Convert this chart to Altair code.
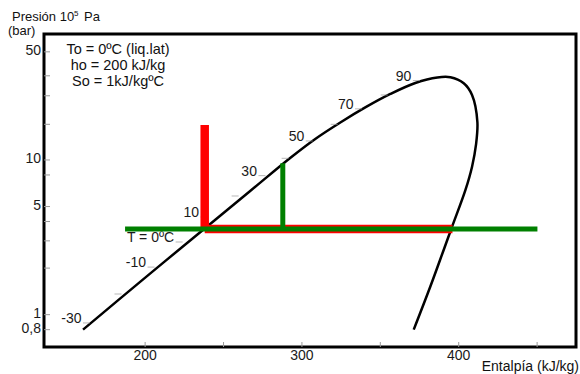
import altair as alt
import pandas as pd

# Saturation dome (enthalpy kJ/kg, pressure bar), in drawing order along the curve
curve_h = [160.4, 196.8, 235.1, 267.0, 292.5, 308.5, 324.5, 340.4, 356.4, 372.3,
           386.4, 394.7, 403.2, 408.5, 411.9, 411.0, 408.5, 404.3, 395.8, 390.4,
           381.9, 371.3]
curve_p = [0.80, 1.63, 3.41, 6.30, 10.3, 13.67, 17.47, 21.85, 26.71, 31.46,
           34.15, 34.25, 31.3, 26.3, 17.6, 12.5, 9.05, 6.40, 3.71, 2.62,
           1.52, 0.80]

# Isotherm marks on the liquid line (temperature ºC)
iso_t = [-30, -20, -10, 0, 10, 20, 30, 40, 50, 60, 70, 80, 90]
iso_h = [162.6, 182.7, 203.8, 221.7, 237.6, 257.4, 274.5, 289.3, 304.7, 320.6,
         336.1, 352.5, 373.0]
iso_p = [0.884, 1.36, 2.03, 2.95, 4.28, 5.85, 7.92, 10.25, 13.27, 17.0,
         21.4, 26.3, 32.6]
iso_label = ["-30", "", "-10", "T = 0ºC", "10", "", "30", "", "50", "",
             "70", "", "90"]

# Red process lines (h1, h2, p1, p2)
red_h1 = [238.0, 238.0]
red_h2 = [238.0, 396.0]
red_p1 = [3.58, 3.58]
red_p2 = [16.84, 3.58]

# Green process lines
green_h1 = [287.8, 187.2]
green_h2 = [287.8, 450.2]
green_p1 = [3.58, 3.58]
green_p2 = [9.52, 3.58]

# Axis ticks and labels
x_ticks = [200, 250, 300, 350, 400, 450]
x_label_values = [200, 300, 400]
x_label_text = ["200", "300", "400"]
y_ticks = [0.8, 1, 2, 3, 4, 5, 8, 10, 17, 26, 35, 50]
y_label_values = [0.8, 1, 5, 10, 50]
y_label_text = ["0,8", "1", "5", "10", "50"]

notes = ["To = 0ºC (liq.lat)", "ho = 200 kJ/kg", "So = 1kJ/kgºC"]

FONT = "Liberation Sans"
W, H = 532, 313

xscale = alt.Scale(domain=[135.5, 474.8], nice=False, zero=False)
yscale = alt.Scale(type="log", domain=[0.618, 65.2], nice=False, zero=False)

curve_df = pd.DataFrame({"h": curve_h, "p": curve_p, "i": list(range(len(curve_h)))})
iso_df = pd.DataFrame({"t": iso_t, "h": iso_h, "p": iso_p, "label": iso_label})
red_df = pd.DataFrame({"h1": red_h1, "h2": red_h2, "p1": red_p1, "p2": red_p2})
green_df = pd.DataFrame({"h1": green_h1, "h2": green_h2, "p1": green_p1, "p2": green_p2})
xt_df = pd.DataFrame({"v": x_ticks})
xl_df = pd.DataFrame({"v": x_label_values, "t": x_label_text})
yt_df = pd.DataFrame({"v": y_ticks})
yl_df = pd.DataFrame({"v": y_label_values, "t": y_label_text})
one = pd.DataFrame({"a": [0]})


def X(f):
    return alt.X(f, scale=xscale, axis=None)


def Y(f):
    return alt.Y(f, scale=yscale, axis=None)


# inward axis ticks
x_tick_marks = alt.Chart(xt_df).mark_rule(color="#999999", strokeWidth=1).encode(
    x=X("v:Q"), y=alt.value(H), y2=alt.value(H - 5))
y_tick_marks = alt.Chart(yt_df).mark_rule(color="#999999", strokeWidth=1).encode(
    y=Y("v:Q"), x=alt.value(0), x2=alt.value(6))
x_labels = alt.Chart(xl_df).mark_text(
    baseline="middle", align="center", font=FONT, fontSize=14, color="#1a1a1a"
).encode(x=X("v:Q"), y=alt.value(H + 9), text="t:N")
y_labels = alt.Chart(yl_df).mark_text(
    baseline="middle", align="right", dx=-3, dy=-1, font=FONT, fontSize=14, color="#1a1a1a"
).encode(y=Y("v:Q"), x=alt.value(0), text="t:N")

curve = alt.Chart(curve_df).mark_line(
    color="black", strokeWidth=2.5, interpolate="catmull-rom"
).encode(x=X("h:Q"), y=Y("p:Q"), order="i:Q")

iso_ticks = alt.Chart(iso_df).mark_tick(
    orient="horizontal", size=7, thickness=1, color="#999999"
).encode(x=X("h:Q"), y=Y("p:Q"))

iso_text = alt.Chart(iso_df).mark_text(
    align="right", baseline="middle", dx=-5, dy=-4,
    font=FONT, fontSize=14, color="#1a1a1a"
).encode(x=X("h:Q"), y=Y("p:Q"), text="label:N")

red = alt.Chart(red_df).mark_rule(color="#ff0000", strokeWidth=8.5).encode(
    x=X("h1:Q"), x2="h2:Q", y=Y("p1:Q"), y2="p2:Q")

green = alt.Chart(green_df).mark_rule(color="#008000", strokeWidth=5).encode(
    x=X("h1:Q"), x2="h2:Q", y=Y("p1:Q"), y2="p2:Q")

note_text = alt.Chart(one).mark_text(
    text=notes, align="center", baseline="middle", lineHeight=16,
    font=FONT, fontSize=14.5, color="#111111"
).encode(x=alt.value(74), y=alt.value(16))

ylab1 = alt.Chart(one).mark_text(
    text="Presión 10", align="left", baseline="alphabetic",
    font=FONT, fontSize=13, color="#111111"
).encode(x=alt.value(-32), y=alt.value(-13))
ylab_sup = alt.Chart(one).mark_text(
    text="5", align="left", baseline="alphabetic",
    font=FONT, fontSize=8, color="#111111"
).encode(x=alt.value(30), y=alt.value(-18))
ylab_pa = alt.Chart(one).mark_text(
    text="Pa", align="left", baseline="alphabetic",
    font=FONT, fontSize=13, color="#111111"
).encode(x=alt.value(40), y=alt.value(-13))
ylab2 = alt.Chart(one).mark_text(
    text="(bar)", align="left", baseline="alphabetic",
    font=FONT, fontSize=13, color="#111111"
).encode(x=alt.value(-36), y=alt.value(1))
xlab = alt.Chart(one).mark_text(
    text="Entalpía (kJ/kg)", align="right", baseline="alphabetic",
    font=FONT, fontSize=14, color="#111111"
).encode(x=alt.value(535), y=alt.value(337))

chart = alt.layer(
    x_tick_marks, y_tick_marks, x_labels, y_labels,
    curve, iso_ticks, iso_text, red, green,
    note_text, ylab1, ylab_sup, ylab_pa, ylab2, xlab
).properties(
    width=W, height=H,
    padding={"left": 44, "top": 34, "right": 4, "bottom": 27},
    autosize=alt.AutoSizeParams(type="none"),
    background="white",
).configure_view(
    stroke="black", strokeWidth=3
)

chart.save("out.html", embed_options={"renderer": "svg", "actions": False})
